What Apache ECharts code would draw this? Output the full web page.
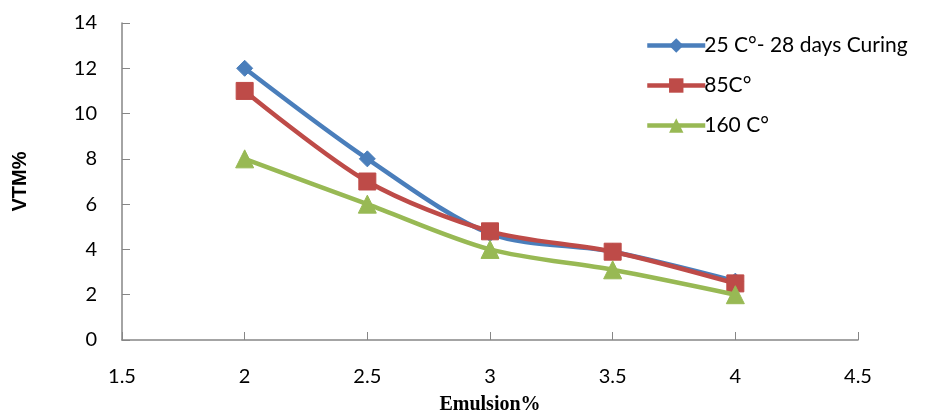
<!DOCTYPE html>
<html><head><meta charset="utf-8">
<script src="https://cdn.jsdelivr.net/npm/echarts@6/dist/echarts.min.js"></script>
<style>html,body{margin:0;padding:0;background:#fff}#c{width:933px;height:412px}</style>
</head><body><div id="c"></div>
<script>
var emulsion = [2, 2.5, 3, 3.5, 4];
var seriesNames = ['25 C°- 28 days Curing', '85C°', '160 C°'];
var cure25 = [12, 8, 4.7, 3.9, 2.6];
var cure85 = [11, 7, 4.8, 3.9, 2.5];
var cure160 = [8, 6, 4, 3.1, 2];
var xTicks = [1.5, 2, 2.5, 3, 3.5, 4, 4.5];
var yTicks = [0, 2, 4, 6, 8, 10, 12, 14];

function pairs(v){ return emulsion.map(function(x,i){ return [x, v[i]]; }); }
var colors = ['#4A7EBB', '#BE4B48', '#98B954'];
var symbols = ['diamond', 'rect', 'triangle'];
var sizes = [16, 17, 18];
var vals = [cure25, cure85, cure160];

var chart = echarts.init(document.getElementById('c'), null, {renderer:'canvas'});
chart.setOption({
  animation: false,
  backgroundColor: '#fff',
  grid: {left: 122, right: 75, top: 23, bottom: 72, containLabel: false, outerBoundsMode: 'none'},
  legend: {
    orient: 'vertical', left: 640, top: 30, itemWidth: 58, itemHeight: 18, itemGap: 19,
    lineStyle: {width: 4.5},
    textStyle: {fontFamily: 'Lato', fontSize: 21, color: '#000', padding:[0,0,0,-6]},
    data: seriesNames
  },
  xAxis: {
    type: 'value', min: xTicks[0], max: xTicks[xTicks.length-1], interval: 0.5,
    name: 'Emulsion%', nameLocation: 'middle', nameGap: 55,
    nameTextStyle: {fontFamily: 'Liberation Serif', fontWeight: 'bold', fontSize: 20, color: '#000'},
    axisLine: {show: true, lineStyle: {color: '#868686', width: 1.5}},
    axisTick: {show: true, inside: true, length: 8, lineStyle: {color: '#868686'}},
    axisLabel: {margin: 27, fontFamily: 'Lato', fontSize: 20, color: '#000', formatter: function(v){return String(v);}},
    splitLine: {show: false}
  },
  yAxis: {
    type: 'value', min: yTicks[0], max: yTicks[yTicks.length-1], interval: 2,
    name: 'VTM%', nameLocation: 'middle', nameGap: 92, nameRotate: 90,
    nameTextStyle: {fontFamily: 'Liberation Sans', fontWeight: 'bold', fontSize: 20, color: '#000'},
    axisLine: {show: true, lineStyle: {color: '#868686', width: 1.5}},
    axisTick: {show: true, inside: true, length: 8, lineStyle: {color: '#868686'}},
    axisLabel: {margin: 25, fontFamily: 'Lato', fontSize: 20, color: '#000'},
    splitLine: {show: false}
  },
  series: seriesNames.map(function(n, i){
    return {
      name: n, type: 'line', data: pairs(vals[i]), smooth: 0.3,
      symbol: symbols[i], symbolSize: sizes[i], showAllSymbol: true,
      lineStyle: {color: colors[i], width: 4.5},
      itemStyle: {color: colors[i], borderColor: colors[i]},
      z: 3 + i
    };
  })
});
</script></body></html>
